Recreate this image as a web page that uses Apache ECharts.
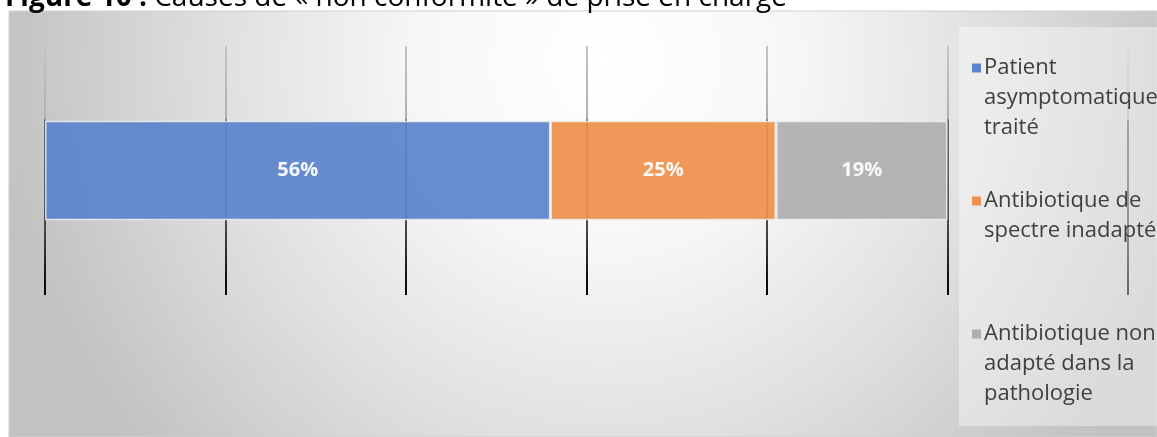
<!DOCTYPE html>
<html>
<head>
<meta charset="utf-8">
<script src="https://cdn.jsdelivr.net/npm/echarts@6/dist/echarts.min.js"></script>
<style>html,body{margin:0;padding:0;background:#fff;}#c{width:1157px;height:437px;}</style>
</head>
<body>
<div id="c"></div>
<script>
const categories = ['Non conformité'];
const seriesNames = ['Patient\nasymptomatique\ntraité', 'Antibiotique de\nspectre inadapté', 'Antibiotique non\nadapté dans la\npathologie'];
const seriesValues = [56, 25, 19];
const seriesColors = ['#5B84CB', '#EE904E', '#AFAFAF'];
const xTicks = [0, 20, 40, 60, 80, 100, 120];

const FONT = '"Open Sans", "Noto Sans", sans-serif';
const chart = echarts.init(document.getElementById('c'));

const legendTops = [52, 185, 318];
const legends = seriesNames.map((n, i) => ({
  show: true,
  data: [n],
  orient: 'vertical',
  left: 960,
  top: legendTops[i],
  selectedMode: false,
  itemWidth: 1,
  itemHeight: 1,
  itemGap: 0,
  itemStyle: { opacity: 0 },
  z: 6,
  formatter: function (name) {
    const lines = name.split('\n');
    return lines.map((l, k) => (k === 0 ? '{sq|}{gap|}' : '{ind|}') + '{t|' + l + '}').join('\n');
  },
  textStyle: {
    rich: {
      sq: { width: 9, height: 9, backgroundColor: seriesColors[i] },
      gap: { width: 3 },
      ind: { width: 12 },
      t: { fontSize: 22, lineHeight: 30, color: '#404040', fontFamily: FONT }
    }
  }
}));

const gridGrad = new echarts.graphic.LinearGradient(0, 46, 0, 295, [
  { offset: 0, color: '#c4c4c4' },
  { offset: 0.29, color: '#b0b0b0' },
  { offset: 0.3, color: '#6a6a6a' },
  { offset: 0.72, color: '#4a4a4a' },
  { offset: 1, color: '#000000' }
], true);

chart.setOption({
  animation: false,
  title: {
    left: 0,
    top: -19,
    text: '{b|Figure 10 :} Causes de « non conformité » de prise en charge',
    textStyle: {
      fontSize: 28, lineHeight: 24, color: '#000', fontWeight: 'normal', fontFamily: FONT,
      rich: { b: { fontSize: 28, lineHeight: 24, fontWeight: 'bold', color: '#000', fontFamily: FONT } }
    }
  },
  graphic: [
    {
      type: 'rect', z: -10, silent: true,
      shape: { x: 9, y: 11, width: 1148, height: 426 },
      style: {
        fill: new echarts.graphic.RadialGradient(0.52, 0.12, 1.45, [
          { offset: 0, color: '#ffffff' },
          { offset: 0.3, color: '#f7f7f7' },
          { offset: 0.62, color: '#e0e0e0' },
          { offset: 0.95, color: '#c4c4c4' },
          { offset: 1, color: '#c2c2c2' }
        ]),
        stroke: '#d0d0d0', lineWidth: 1
      }
    },
    {
      type: 'rect', z: 3, silent: true,
      shape: { x: 959, y: 27, width: 198, height: 399 },
      style: { fill: 'rgba(255,255,255,0.4)' }
    }
  ],
  legend: legends,
  grid: { left: 45, right: 29, top: 46, bottom: 142, containLabel: false },
  xAxis: {
    type: 'value',
    min: xTicks[0],
    max: xTicks[xTicks.length - 1],
    interval: xTicks[1] - xTicks[0],
    axisLine: { show: false },
    axisTick: { show: false },
    axisLabel: { show: false },
    splitLine: { show: true, lineStyle: { color: gridGrad, width: 2 } }
  },
  yAxis: {
    type: 'category',
    data: categories,
    axisLine: { show: false },
    axisTick: { show: false },
    axisLabel: { show: false }
  },
  series: seriesNames.map((n, i) => ({
    name: n,
    type: 'bar',
    stack: 'total',
    barWidth: '40%',
    data: [seriesValues[i]],
    itemStyle: { color: seriesColors[i], opacity: 0.93, borderColor: 'rgba(240,240,240,0.9)', borderWidth: 1.5 },
    label: {
      show: true, position: 'inside', formatter: '{c}%',
      color: '#ffffff', fontWeight: 'bold', fontSize: 20, fontFamily: FONT
    }
  }))
});
</script>
</body>
</html>
